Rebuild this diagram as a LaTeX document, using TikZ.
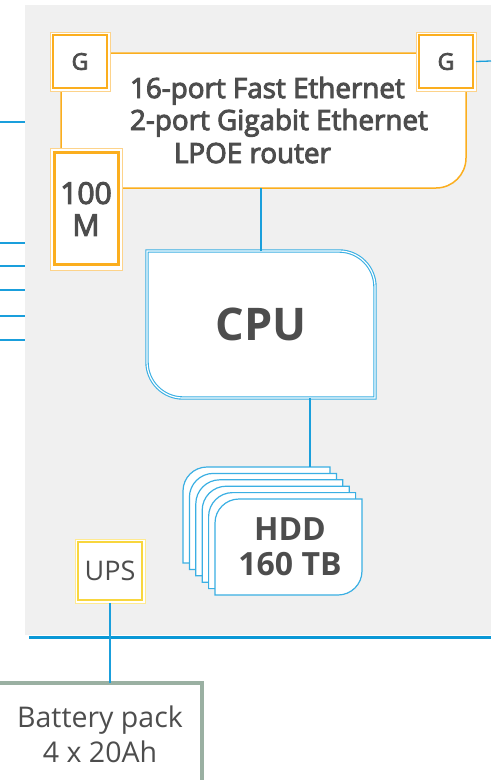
\documentclass[tikz,border=0pt]{standalone}
\usepackage{fontspec}
\setmainfont{Open Sans}
\newfontfamily\semib{Open Sans}[FakeBold=3.5]
\usetikzlibrary{calc}
\definecolor{bgray}{HTML}{F0F0F0}
\definecolor{txt}{HTML}{4D4D4D}
\definecolor{orng}{HTML}{FBAE1E}
\definecolor{lorng}{HTML}{FDD38A}
\definecolor{cblue}{HTML}{3AAFE3}
\definecolor{lblue}{HTML}{1A9FDC}
\definecolor{dblue}{HTML}{0A98D6}
\definecolor{ylw}{HTML}{F8D63E}
\definecolor{lylw}{HTML}{FFEA90}
\definecolor{sage}{HTML}{9AB0A2}
\tikzset{
  every node/.style={text=txt, inner sep=0pt, outer sep=0pt},
  wire/.style={lblue, line width=1.3pt},
  cardline/.style={cblue, line width=1.2pt, fill=white},
  rtext/.style={anchor=base west, font=\fontsize{27.8}{30}\semib},
}
\begin{document}
\begin{tikzpicture}[x=1pt,y=-1pt]
\useasboundingbox (0,0) rectangle (491,780);
% background panel
\node[fill=bgray, minimum width=466pt, minimum height=630pt, anchor=north west] (bg) at (25,5) {};
\draw[dblue, line width=3pt] (29,637) -- (491,637);
% left port lines
\foreach \yy in {122,243,266,290,316,340} {
  \coordinate (l\yy) at (0,\yy);
  \draw[wire] (l\yy) -- (l\yy -| bg.west);
}
% router
\node[minimum width=405pt, minimum height=135pt, anchor=north west] (router) at (61,53) {};
\draw[orng, line width=1.5pt, fill=white] (router.south west) -- (router.north west) -- (router.north east) [rounded corners=30pt] -- (router.south east) [sharp corners] -- cycle;
\node[rtext] (rt1) at (130,98) {16-port Fast Ethernet};
\node[rtext] (rt2) at (130,130) {2-port Gigabit Ethernet};
\node[rtext] (rt3) at (174,163) {LPOE router};
% G boxes
\foreach \nm/\xx in {gL/80, gR/446} {
  \node[draw=lorng, line width=1pt, fill=white, minimum width=60pt, minimum height=59pt, font=\fontsize{23}{26}\semib] (\nm) at (\xx,61.5) {G};
  \draw[orng, line width=1.6pt] ($(\nm.north west)+(2.8,2.8)$) rectangle ($(\nm.south east)-(2.8,2.8)$);
}
\coordinate (rend) at (491,61);
\draw[wire] (gR.east) -- (rend);
% 100M box
\node[draw=lorng, line width=1pt, fill=white, minimum width=72pt, minimum height=122pt, align=center, font=\fontsize{30}{32}\semib] (hm) at (86,209) {100\\M};
\draw[orng, line width=3pt] ($(hm.north west)+(4,4.5)$) rectangle ($(hm.south east)-(4,5.5)$);
% CPU
\node[minimum width=228pt, minimum height=147pt] (cpu) at (261,324.5) {};
\draw[cblue, line width=1.1pt, double=white, double distance=1.2pt, fill=white] (cpu.north west) [rounded corners=36pt] -- (cpu.north east) [sharp corners] -- (cpu.south east) [rounded corners=36pt] -- (cpu.south west) [sharp corners] -- cycle;
\node[font=\fontsize{45}{50}\bfseries] (cputxt) at (cpu.center) {CPU};
\draw[wire] (cpu.north) -- (cpu.north |- router.south);
% HDD stack
\foreach \i in {0,...,5} {
  \node[minimum width=147pt, minimum height=96pt, anchor=north west] (hdd\i) at ({183+6.4*\i},{467+6.4*\i}) {};
  \draw[cardline] (hdd\i.north east) [rounded corners=24pt] -- (hdd\i.south east) [sharp corners] -- (hdd\i.south west) [rounded corners=24pt] -- (hdd\i.north west) [sharp corners] -- cycle;
}
\node[align=center, font=\fontsize{32}{35}\bfseries] (hddtxt) at ($(hdd5.center)+(1.5,0)$) {HDD\\160 TB};
\coordinate (hddtop) at (310,467);
\draw[wire] (cpu.south -| hddtop) -- (hddtop);
% UPS
\node[draw=lylw, line width=1pt, fill=white, minimum width=70pt, minimum height=64pt, font=\fontsize{27}{30}\selectfont] (ups) at (110,571) {UPS};
\draw[ylw, line width=1.6pt] ($(ups.north west)+(2.8,2.8)$) rectangle ($(ups.south east)-(2.8,2.8)$);
% battery
\node[draw=sage, line width=4pt, fill=white, minimum width=212pt, minimum height=117pt, anchor=north west] (batt) at (-10,683) {};
\node[align=center, font=\fontsize{28.5}{35}\selectfont] (batttxt) at (100,734) {Battery pack\\4 x 20Ah};
\draw[wire] (ups.south) -- (ups.south |- batt.north);
\end{tikzpicture}
\end{document}
